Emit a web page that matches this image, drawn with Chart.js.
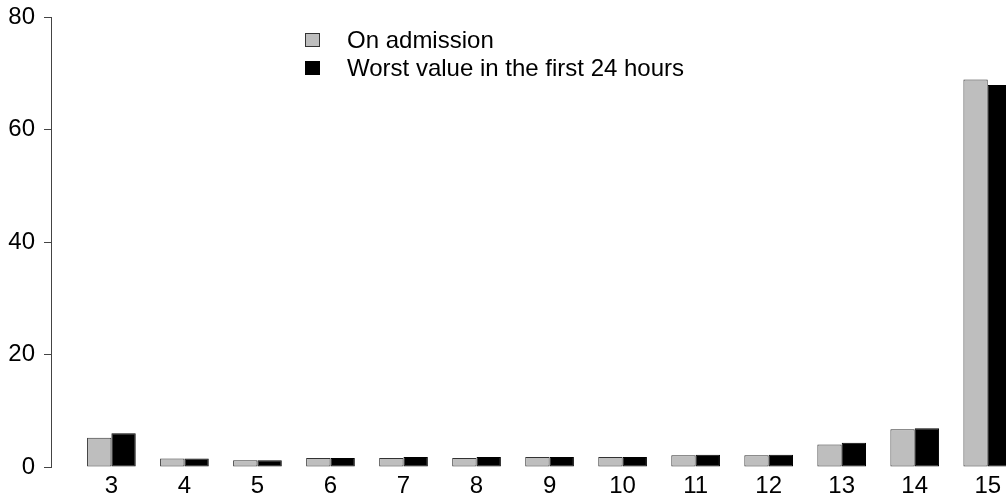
<!DOCTYPE html>
<html lang="en">
<head>
    <meta charset="UTF-8">
    <title>On admission vs worst value in the first 24 hours</title>
    <script src="https://cdn.jsdelivr.net/npm/chart.js"></script>
    <style>
        body {
            margin: 0;
            background: #fff;
            font-family: "Liberation Sans", Arial, sans-serif;
        }
        .wrap {
            position: relative;
            width: 1006px;
            height: 502px;
            overflow: hidden;
        }
        #legend {
            position: absolute;
            left: 305px;
            top: 26px;
            font-size: 24px;
            color: #000;
        }
        #legend .item {
            display: flex;
            align-items: center;
            height: 28px;
        }
        #legend .box {
            width: 15px;
            height: 14px;
            box-sizing: border-box;
            border: 1px solid #333;
            margin-right: 27px;
        }
    </style>
</head>
<body>
    <div class="wrap">
        <canvas id="chart"></canvas>
        <div id="legend"></div>
    </div>
    <script>
        // score categories on the x axis
        const categories = [3, 4, 5, 6, 7, 8, 9, 10, 11, 12, 13, 14, 15];
        const onAdmission = [5.2, 1.5, 1.2, 1.6, 1.6, 1.6, 1.8, 1.8, 2.1, 2.1, 4.0, 6.7, 68.9];
        const worst24h = [6.0, 1.5, 1.2, 1.6, 1.8, 1.8, 1.8, 1.8, 2.2, 2.2, 4.3, 6.9, 67.9];
        const yTicks = [0, 20, 40, 60, 80];

        const font = { family: '"Liberation Sans", Arial, sans-serif', size: 24 };

        const datasets = [
            {
                label: 'On admission',
                data: onAdmission.map((v, i) => ({ x: categories[i], y: v })),
                backgroundColor: '#bebebe',
                borderColor: '#333',
                borderWidth: 1,
                borderSkipped: false
            },
            {
                label: 'Worst value in the first 24 hours',
                data: worst24h.map((v, i) => ({ x: categories[i], y: v })),
                backgroundColor: '#000',
                borderColor: '#000',
                borderWidth: 1,
                borderSkipped: false
            }
        ];

        const chart = new Chart(document.getElementById('chart'), {
            type: 'bar',
            data: { datasets: datasets },
            options: {
                responsive: true,
                maintainAspectRatio: false,
                animation: false,
                categoryPercentage: 2 / 3,
                barPercentage: 1,
                layout: { padding: { top: 17, left: 0, right: 0, bottom: 0 } },
                plugins: {
                    legend: { display: false },
                    tooltip: { enabled: false }
                },
                scales: {
                    x: {
                        type: 'linear',
                        offset: false,
                        min: 2.173,
                        max: 15.25,
                        grid: { display: false, drawTicks: false, offset: false },
                        border: { display: false },
                        afterBuildTicks: s => { s.ticks = categories.map(v => ({ value: v })); },
                        afterFit: s => {
                            s.height = 35;
                            s.paddingLeft = 0;
                            s.paddingRight = 0;
                        },
                        ticks: {
                            font: font,
                            color: '#000',
                            padding: 5,
                            maxRotation: 0,
                            autoSkip: false,
                            callback: v => String(v)
                        }
                    },
                    y: {
                        min: 0,
                        max: 80,
                        afterBuildTicks: s => { s.ticks = yTicks.map(v => ({ value: v })); },
                        afterFit: s => {
                            s.width = 51;
                            s.paddingTop = 0;
                            s.paddingBottom = 0;
                        },
                        grid: {
                            drawOnChartArea: false,
                            drawTicks: true,
                            tickLength: 7,
                            color: '#444'
                        },
                        border: { display: true, color: '#444', width: 1 },
                        ticks: {
                            font: font,
                            color: '#000',
                            padding: 9
                        }
                    }
                }
            }
        });

        // html legend built from the datasets
        const legendEl = document.getElementById('legend');
        chart.data.datasets.forEach(ds => {
            const item = document.createElement('div');
            item.className = 'item';
            const box = document.createElement('span');
            box.className = 'box';
            box.style.background = ds.backgroundColor;
            box.style.borderColor = ds.borderColor;
            const text = document.createElement('span');
            text.textContent = ds.label;
            item.appendChild(box);
            item.appendChild(text);
            legendEl.appendChild(item);
        });
    </script>
</body>
</html>
